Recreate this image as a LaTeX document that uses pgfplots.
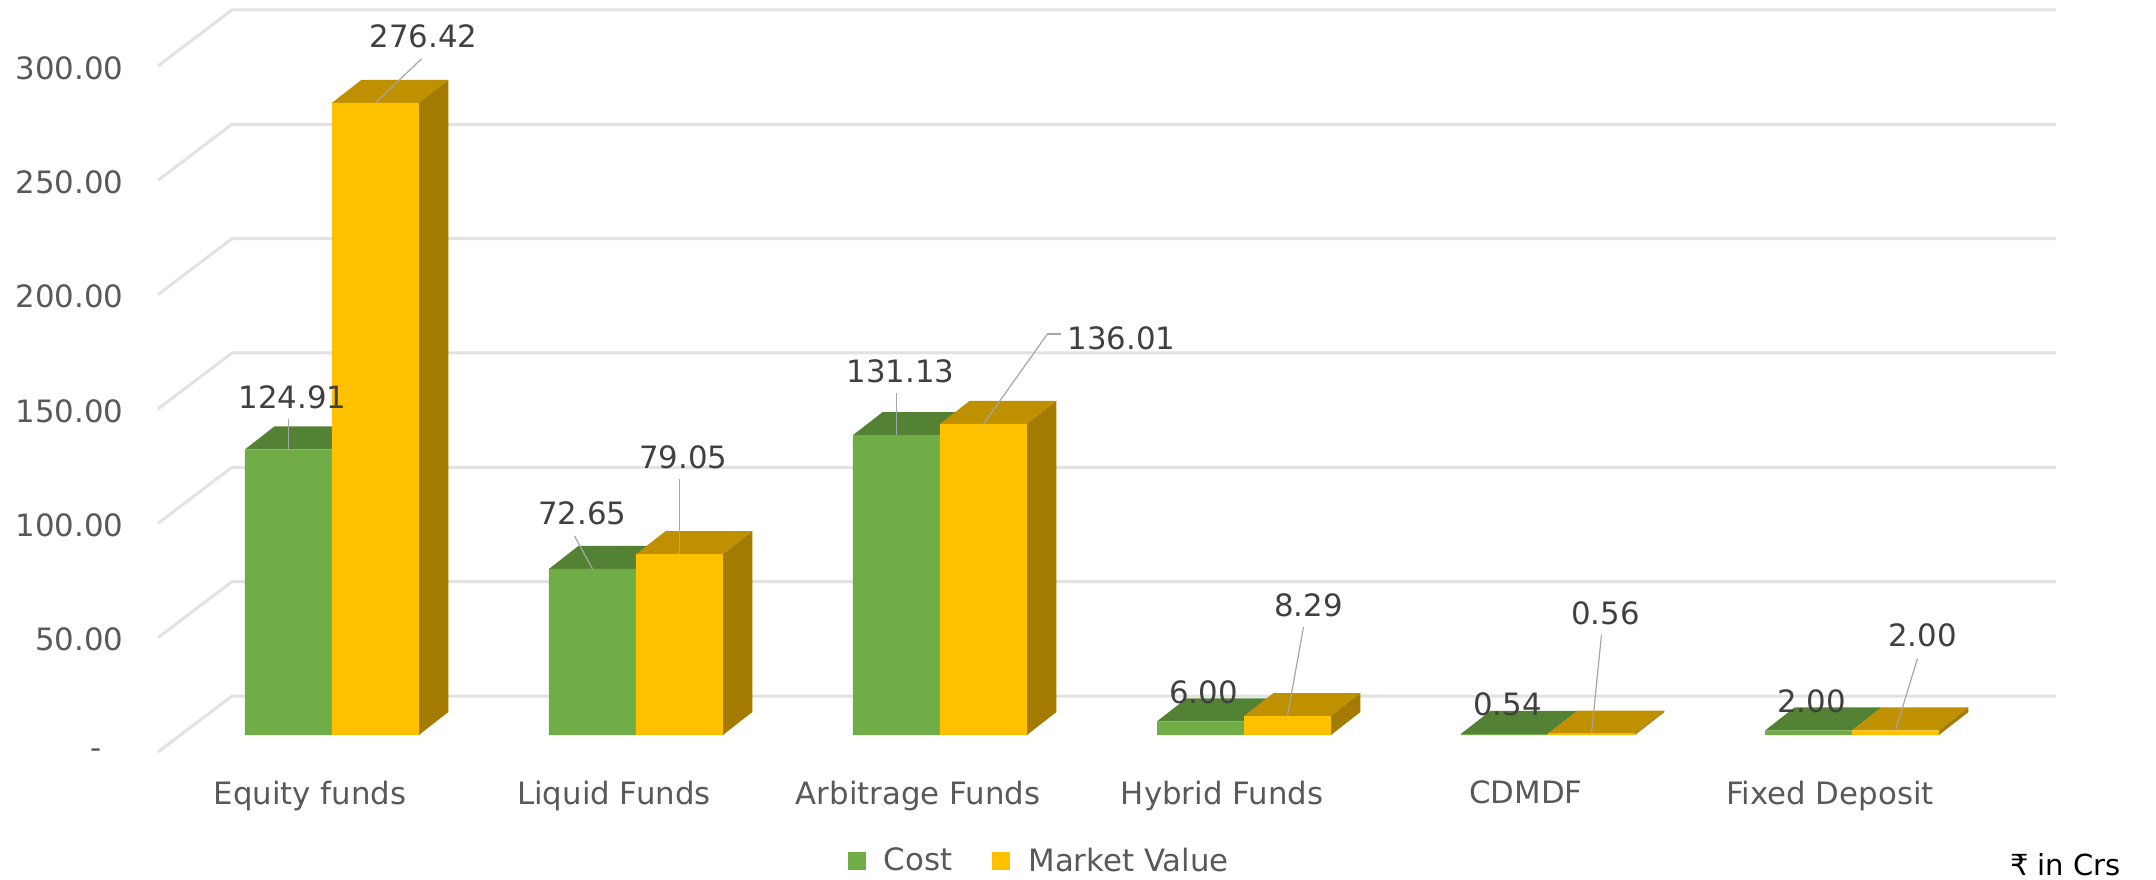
\documentclass[border=0pt]{standalone}
\usepackage{fontspec}
\setmainfont{DejaVu Sans}
\usepackage{pgfplots}
\pgfplotsset{compat=1.18}
\usepackage{pgfplotstable}
\definecolor{costfront}{HTML}{70AD47}
\definecolor{costtop}{HTML}{548235}
\definecolor{mvfront}{HTML}{FFC000}
\definecolor{mvtop}{HTML}{BF9000}
\definecolor{mvside}{HTML}{A37B00}
\definecolor{gridc}{HTML}{E2E2E2}
\definecolor{tickc}{HTML}{595959}
\definecolor{labc}{HTML}{404040}
\definecolor{leadc}{HTML}{A6A6A6}

% 1 reference pixel = 0.5pt
\newlength{\rp}\setlength{\rp}{0.5pt}
\newcommand{\chartfont}{\fontsize{15.4}{17}\selectfont}

\pgfplotstableread{
k  cost    mv
0  124.91  276.42
1  72.65   79.05
2  131.13  136.01
3  6.00    8.29
4  0.54    0.56
5  2.00    2.00
}\fundtable

% depth of the 3D bars in axis units: 29.5 px across, 23 px up
\def\dx{0.097}
\def\dy{10.06}
\def\bw{0.286}

% top face: {category}{0 cost, 1 market value}{value}{colour}
\newcommand{\topface}[4]{%
  \pgfmathsetmacro{\xa}{#1-\bw+#2*\bw}%
  \pgfmathsetmacro{\xb}{#1+#2*\bw}%
  \pgfmathsetmacro{\xc}{\xb+\dx}%
  \pgfmathsetmacro{\xd}{\xa+\dx}%
  \pgfmathsetmacro{\yt}{#3+\dy}%
  \addplot[fill=#4, draw=none, forget plot] coordinates {(\xa,#3) (\xb,#3) (\xc,\yt) (\xd,\yt)} -- cycle;
}
% side face of the market value bar
\newcommand{\sideface}[2]{%
  \pgfmathsetmacro{\xb}{#1+\bw}%
  \pgfmathsetmacro{\xc}{\xb+\dx}%
  \pgfmathsetmacro{\yt}{#2+\dy}%
  \addplot[fill=mvside, draw=none, forget plot] coordinates {(\xb,0) (\xc,\dy) (\xc,\yt) (\xb,#2)} -- cycle;
}
% floor and wall gridline for one value
\newcommand{\gridl}[1]{%
  \pgfmathsetmacro{\yf}{#1-7.43}%
  \pgfmathsetmacro{\yb}{#1+17.05}%
  \addplot[gridc, line width=1.5pt, forget plot, line join=round] coordinates {(-0.572,\yf) (-0.329,\yb) (5.671,\yb)};
}
% data label with leader: {x}{value}{text dx}{text dy}{leader dx}{leader dy}{text}
\newcommand{\dlab}[7]{%
  \draw[leadc, line width=0.6pt] (axis cs:#1,#2) -- ([shift={(#5\rp,#6\rp)}]axis cs:#1,#2);
  \node[text=labc, font=\chartfont, inner sep=0pt] at ([shift={(#3\rp,#4\rp)}]axis cs:#1,#2) {#7};
}

\begin{document}
\begin{tikzpicture}
\path[use as bounding box] (0pt,0pt) rectangle (1078pt,439.5pt);
\begin{axis}[
  at={(77.5pt,54.5pt)}, anchor=south west,
  scale only axis,
  width=950.5pt, height=385pt,
  xmin=-0.582, xmax=5.671,
  ymin=-15.3, ymax=321.4,
  clip=false,
  axis line style={draw=none},
  tick style={draw=none},
  ytick={0,50,...,300},
  yticklabels={-\hspace{11pt}\null,50.00,100.00,150.00,200.00,250.00,300.00},
  xtick={0,1,2,3,4,5},
  xticklabels={Equity funds,Liquid Funds,Arbitrage Funds,Hybrid Funds,CDMDF,Fixed Deposit},
  tick label style={font=\chartfont, text=tickc},
  yticklabel style={xshift=-12.3pt, yshift=-9.5pt},
  xticklabel style={xshift=-11pt, yshift=-2pt},
  legend style={at={(axis cs:2.33,-55.1)}, anchor=center, draw=none, fill=none, legend columns=2,
    font=\chartfont, text=tickc, inner sep=0pt,
    /tikz/column 1/.style={column sep=7pt},
    /tikz/column 2/.style={column sep=18pt},
    /tikz/column 3/.style={column sep=7pt}},
  legend image code/.code={\fill[#1] (0,-4.5pt) rectangle (9pt,4.5pt);},
]
\pgfplotsinvokeforeach{0,50,...,300}{\gridl{#1}}

% green tops
\topface{0}{0}{124.91}{costtop}
\topface{1}{0}{72.65}{costtop}
\topface{2}{0}{131.13}{costtop}
\topface{3}{0}{6.00}{costtop}
\topface{4}{0}{0.54}{costtop}
\topface{5}{0}{2.00}{costtop}

\addplot[ybar, bar width=43.5pt, bar shift=-21.75pt, fill=costfront, draw=none] table[x=k, y=cost] {\fundtable};
\addlegendentry{Cost}

% yellow tops and sides
\topface{0}{1}{276.42}{mvtop}
\topface{1}{1}{79.05}{mvtop}
\topface{2}{1}{136.01}{mvtop}
\topface{3}{1}{8.29}{mvtop}
\topface{4}{1}{0.56}{mvtop}
\topface{5}{1}{2.00}{mvtop}
\sideface{0}{276.42}
\sideface{1}{79.05}
\sideface{2}{136.01}
\sideface{3}{8.29}
\sideface{4}{0.56}
\sideface{5}{2.00}

\addplot[ybar, bar width=43.5pt, bar shift=21.75pt, fill=mvfront, draw=none] table[x=k, y=mv] {\fundtable};
\addlegendentry{Market Value}

% labels, offsets in reference pixels from the top of each bar (y up)
\dlab{0.143}{276.42}{48}{67}{46}{44}{276.42}
\dlab{-0.143}{124.91}{4}{52}{0}{30}{124.91}
\dlab{0.857}{72.65}{-10}{56}{-18}{33}{72.65}
\dlab{1.143}{79.05}{4}{97}{0}{75}{79.05}
\dlab{1.857}{131.13}{4}{64}{0}{42}{131.13}
\dlab{2.143}{136.01}{138}{86}{64}{90}{136.01}
\draw[leadc, line width=0.6pt] ([shift={(64\rp,90\rp)}]axis cs:2.143,136.01) -- ([shift={(78\rp,90\rp)}]axis cs:2.143,136.01);
\dlab{3.143}{8.29}{21}{111}{16}{89}{8.29}
\node[text=labc, font=\chartfont, inner sep=0pt] at ([shift={(3\rp,29\rp)}]axis cs:2.857,6.00) {6.00};
\dlab{4.143}{0.56}{14}{120}{10}{99}{0.56}
\node[text=labc, font=\chartfont, inner sep=0pt] at ([shift={(3\rp,29\rp)}]axis cs:3.857,0.54) {0.54};
\dlab{5.143}{2.00}{27}{95}{22}{72}{2.00}
\node[text=labc, font=\chartfont, inner sep=0pt] at ([shift={(3\rp,29\rp)}]axis cs:4.857,2.00) {2.00};
\end{axis}
\node[anchor=east, inner sep=0pt, font=\fontsize{14.5}{16}\selectfont] at (1060.5pt,7pt) {₹ in Crs};
\end{tikzpicture}
\end{document}
